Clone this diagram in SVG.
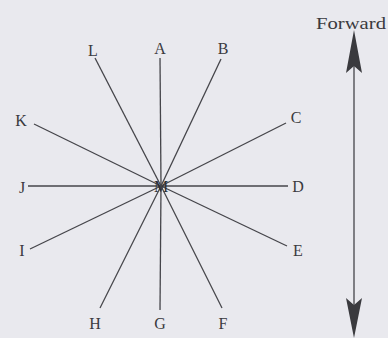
<svg xmlns="http://www.w3.org/2000/svg" width="388" height="338" viewBox="0 0 388 338">
<style>
.lbl{font-family:"Liberation Serif","DejaVu Serif",serif;font-size:16px;fill:#3a3a3e;text-anchor:middle;dominant-baseline:central}
.ray{stroke:#45454a;stroke-width:1.3;fill:none}
.head{fill:#3a3a3e}
</style>
<rect width="388" height="338" fill="#e9e9ee"/>
<g id="connectors">
<line class="ray" x1="161" y1="186" x2="160" y2="58"/>
<line class="ray" x1="161" y1="186" x2="95" y2="58"/>
<line class="ray" x1="161" y1="186" x2="34" y2="124"/>
<line class="ray" x1="161" y1="186" x2="221" y2="59"/>
<line class="ray" x1="161" y1="186" x2="286" y2="123"/>
<line class="ray" x1="161" y1="186" x2="288" y2="186"/>
<line class="ray" x1="161" y1="186" x2="287" y2="246"/>
<line class="ray" x1="161" y1="186" x2="222" y2="308"/>
<line class="ray" x1="161" y1="186" x2="160" y2="310"/>
<line class="ray" x1="161" y1="186" x2="100" y2="308"/>
<line class="ray" x1="161" y1="186" x2="30" y2="249"/>
<line class="ray" x1="161" y1="186" x2="28" y2="186"/>
</g>
<g id="M"><text class="lbl" x="161" y="186" style="fill:#2e2e32">M</text></g>
<g id="A"><text class="lbl" x="160" y="48">A</text></g>
<g id="B"><text class="lbl" x="223" y="48">B</text></g>
<g id="C"><text class="lbl" x="296" y="117">C</text></g>
<g id="D"><text class="lbl" x="298" y="186">D</text></g>
<g id="E"><text class="lbl" x="298" y="250">E</text></g>
<g id="F"><text class="lbl" x="223" y="323">F</text></g>
<g id="G"><text class="lbl" x="160" y="323">G</text></g>
<g id="H"><text class="lbl" x="95" y="323">H</text></g>
<g id="I"><text class="lbl" x="22" y="250">I</text></g>
<g id="J"><text class="lbl" x="22" y="187">J</text></g>
<g id="K"><text class="lbl" x="21" y="120">K</text></g>
<g id="L"><text class="lbl" x="93" y="50">L</text></g>
<g id="forward">
<text class="lbl" x="351" y="23" style="font-size:17px" textLength="70" lengthAdjust="spacingAndGlyphs">Forward</text>
<line class="ray" x1="354" y1="60" x2="354" y2="310"/>
<polygon class="head" points="354,30 362,73 354,66 346,73"/>
<polygon class="head" points="354,338 362,298 354,305 346,298"/>
</g>
</svg>
